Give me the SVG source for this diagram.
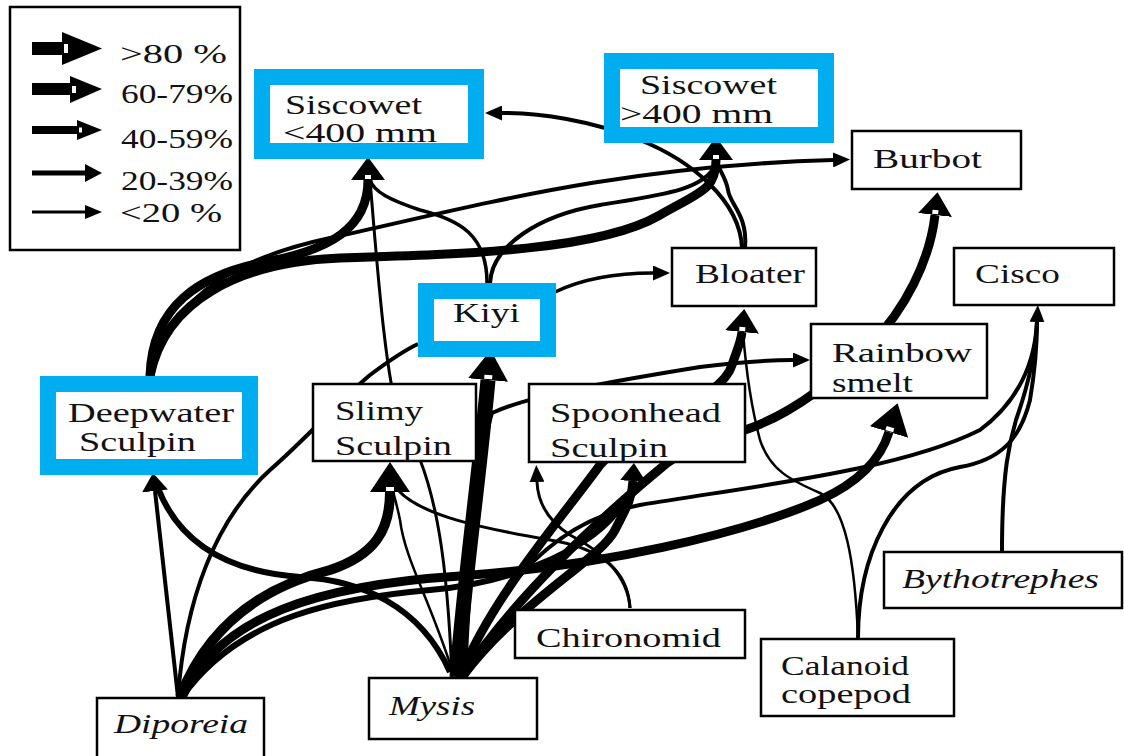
<svg xmlns="http://www.w3.org/2000/svg" width="1124" height="756" viewBox="0 0 1124 756">
<style>
.bg{fill:#fff}
.box{fill:#fff;stroke:#000;stroke-width:2.5}
.blue{fill:#fff;stroke:#00aeef;stroke-width:16}
.t{font-family:"Liberation Serif","Times New Roman",serif;font-size:28px;fill:#111}
.i{font-style:italic}
.e{fill:none;stroke:#000;stroke-linecap:butt}
</style>
<defs>
<marker id="mXL" markerUnits="userSpaceOnUse" markerWidth="30" markerHeight="40" viewBox="0 -20 30 40" refX="0" refY="0" orient="auto"><path d="M0,-20 L30,0 L0,20 Z" fill="#000"/><rect x="1" y="-4" width="4" height="8" fill="#fff"/></marker>
<marker id="mL" markerUnits="userSpaceOnUse" markerWidth="23" markerHeight="34" viewBox="0 -17 23 34" refX="0" refY="0" orient="auto"><path d="M0,-17 L23,0 L0,17 Z" fill="#000"/><rect x="1" y="-3" width="4" height="6" fill="#fff"/></marker>
<marker id="mM" markerUnits="userSpaceOnUse" markerWidth="18" markerHeight="26" viewBox="0 -13 18 26" refX="0" refY="0" orient="auto"><path d="M0,-13 L18,0 L0,13 Z" fill="#000"/></marker>
<marker id="mS" markerUnits="userSpaceOnUse" markerWidth="17" markerHeight="15" viewBox="0 -7.5 17 15" refX="0" refY="0" orient="auto"><path d="M0,-7.5 L17,0 L0,7.5 Z" fill="#000"/></marker>
</defs>
<rect class="bg" x="0" y="0" width="1124" height="756"/>

<g id="legend">
<rect class="box" x="10" y="7" width="230" height="243"/>
<rect x="32" y="42" width="31" height="13"/><polygon points="62,32 102,48.5 62,65"/><rect x="64" y="44" width="4" height="9" fill="#fff"/>
<rect x="32" y="83" width="39" height="12"/><polygon points="70,76 102,89 70,103"/><rect x="72" y="86" width="4" height="7" fill="#fff"/>
<rect x="32" y="126" width="46" height="8"/><polygon points="77,120 102,130 77,140"/><rect x="79" y="127.5" width="3" height="5" fill="#fff"/>
<rect x="32" y="170.5" width="54" height="5"/><polygon points="85,164 102,173 85,182"/>
<rect x="32" y="210.5" width="54" height="3"/><polygon points="85,205 102,212 85,219"/>
<text class="t" x="120" y="63" textLength="107" lengthAdjust="spacingAndGlyphs">&gt;80 %</text>
<text class="t" x="121" y="103" textLength="112" lengthAdjust="spacingAndGlyphs">60-79%</text>
<text class="t" x="121" y="148" textLength="112" lengthAdjust="spacingAndGlyphs">40-59%</text>
<text class="t" x="121" y="190" textLength="112" lengthAdjust="spacingAndGlyphs">20-39%</text>
<text class="t" x="120" y="222" textLength="102" lengthAdjust="spacingAndGlyphs">&lt;20 %</text>
</g>

<g id="connectors">
<!-- Deepwater bundle -->
<path class="e" stroke-width="9" d="M150,376 C152,305 200,275 265,262 C330,250 368,228 368,180" marker-end="url(#mL)"/>
<path class="e" stroke-width="9" d="M150,376 C165,300 240,262 340,258 C470,254 600,250 660,215 C700,192 716,190 716,160" marker-end="url(#mL)"/>
<path class="e" stroke-width="4" d="M152,376 C170,290 250,255 330,238 C480,205 620,166 833,160" marker-end="url(#mS)"/>
<!-- into Siscowet < 400 -->
<path class="e" stroke-width="3" d="M452,677 C448,580 440,480 400,420 C385,380 376,250 370,180"/>
<path class="e" stroke-width="3.5" d="M487,283 C487,235 460,220 420,210 C390,200 374,192 370,180"/>
<path class="e" stroke-width="4" d="M742,248 C740,200 690,160 640,140 C590,120 540,113 502,113" marker-end="url(#mS)"/>
<!-- into Siscowet > 400 -->
<path class="e" stroke-width="4" d="M490,283 C492,245 540,215 600,205 C660,195 705,190 715,165"/>
<path class="e" stroke-width="4" d="M745,248 C748,215 730,205 728,190 C726,178 720,172 717,162"/>
<!-- Kiyi -> Bloater -->
<path class="e" stroke-width="3.5" d="M555,292 C580,280 610,273 653,273" marker-end="url(#mS)"/>
<!-- Mysis bundle -->
<path class="e" stroke-width="9" d="M462,677 C520,590 610,510 667,463 C700,440 720,437 745,430 C790,415 830,385 870,345 C905,310 930,260 935,215" marker-end="url(#mL)"/>
<path class="e" stroke-width="9" d="M460,677 C490,600 560,520 600,465 C640,420 722,400 732,365 C737,350 741,342 742,332" marker-end="url(#mL)"/>
<path class="e" stroke-width="4" d="M465,677 C470,560 480,450 492,413 C530,395 620,380 700,367 C740,362 770,360 793,360" marker-end="url(#mS)"/>
<path class="e" stroke-width="9" d="M462,677 C520,600 600,560 615,530 C625,510 632,500 633,481" marker-end="url(#mM)"/>
<path class="e" stroke-width="2.5" d="M452,670 C430,600 405,560 400,520 C397,505 394,495 392,488"/>
<path class="e" stroke-width="6" d="M450,672 C420,605 360,580 300,577 C230,572 180,545 158,488"/>
<path class="e" stroke-width="4" d="M458,677 C500,580 560,520 640,505 C760,485 900,470 980,430 C1020,400 1035,360 1037,322" marker-end="url(#mS)"/>
<path class="e" stroke-width="15" d="M457,677 C462,600 480,470 488,380" marker-end="url(#mXL)"/>
<!-- Diporeia bundle -->
<path class="e" stroke-width="4" d="M178,697 L155,491" marker-end="url(#mM)"/>
<path class="e" stroke-width="4" d="M178,697 C185,600 215,520 270,470 C310,435 340,400 370,375 C390,360 405,350 418,344"/>
<path class="e" stroke-width="10" d="M180,697 C210,620 270,585 330,570 C375,555 390,530 390,492" marker-end="url(#mXL)"/>
<path class="e" stroke-width="9" d="M182,697 C220,615 320,585 460,576 C600,566 740,535 820,500 C855,484 880,462 889,432" marker-end="url(#mXL)"/>
<path class="e" stroke-width="6" d="M182,697 C240,615 340,598 430,590 C520,582 600,545 625,500"/>
<!-- Chironomid -->
<path class="e" stroke-width="3" d="M630,608 C628,570 600,548 550,540 C480,528 420,515 398,490"/>
<path class="e" stroke-width="3" d="M630,608 C628,575 600,550 570,535 C550,522 538,505 537,482" marker-end="url(#mS)"/>
<!-- Calanoid copepod -->
<path class="e" stroke-width="2.5" d="M858,638 C855,560 845,505 820,493 C790,480 770,470 760,440 C752,410 746,370 743,332"/>
<path class="e" stroke-width="4" d="M858,638 C858,560 890,480 960,467 C1000,460 1020,440 1030,400 C1035,370 1037,340 1037,322"/>
<!-- Bythotrephes -->
<path class="e" stroke-width="4" d="M1002,551 C1002,470 1010,440 1016,420 C1030,380 1036,350 1037,322"/>
</g>

<g id="siscowet-small"><rect class="blue" x="262" y="77" width="214" height="74"/>
<text class="t" x="285" y="114" textLength="137" lengthAdjust="spacingAndGlyphs">Siscowet</text>
<text class="t" x="283" y="142" textLength="154" lengthAdjust="spacingAndGlyphs">&lt;400 mm</text></g>
<g id="siscowet-large"><rect class="blue" x="612" y="61" width="214" height="74"/>
<text class="t" x="640" y="94" textLength="137" lengthAdjust="spacingAndGlyphs">Siscowet</text>
<text class="t" x="620" y="123" textLength="153" lengthAdjust="spacingAndGlyphs">&gt;400 mm</text></g>
<g id="burbot"><rect class="box" x="852" y="131" width="169" height="58"/>
<text class="t" x="873" y="168" textLength="109" lengthAdjust="spacingAndGlyphs">Burbot</text></g>
<g id="bloater"><rect class="box" x="672" y="248" width="144" height="58"/>
<text class="t" x="695" y="283" textLength="110" lengthAdjust="spacingAndGlyphs">Bloater</text></g>
<g id="kiyi"><rect class="blue" x="426" y="291" width="122" height="58"/>
<text class="t" x="453" y="322" textLength="67" lengthAdjust="spacingAndGlyphs">Kiyi</text></g>
<g id="cisco"><rect class="box" x="954" y="248" width="160" height="57"/>
<text class="t" x="975" y="283" textLength="85" lengthAdjust="spacingAndGlyphs">Cisco</text></g>
<g id="rainbow-smelt"><rect class="box" x="811" y="324" width="176" height="74"/>
<text class="t" x="832" y="362" textLength="140" lengthAdjust="spacingAndGlyphs">Rainbow</text>
<text class="t" x="832" y="392" textLength="81" lengthAdjust="spacingAndGlyphs">smelt</text></g>
<g id="deepwater-sculpin"><rect class="blue" x="48" y="384" width="202" height="83"/>
<text class="t" x="68" y="422" textLength="166" lengthAdjust="spacingAndGlyphs">Deepwater</text>
<text class="t" x="79" y="451" textLength="117" lengthAdjust="spacingAndGlyphs">Sculpin</text></g>
<g id="slimy-sculpin"><rect class="box" x="313" y="384" width="163" height="77"/>
<text class="t" x="335" y="420" textLength="88" lengthAdjust="spacingAndGlyphs">Slimy</text>
<text class="t" x="335" y="455" textLength="117" lengthAdjust="spacingAndGlyphs">Sculpin</text></g>
<g id="spoonhead-sculpin"><rect class="box" x="529" y="384" width="216" height="78"/>
<text class="t" x="550" y="422" textLength="171" lengthAdjust="spacingAndGlyphs">Spoonhead</text>
<text class="t" x="550" y="457" textLength="118" lengthAdjust="spacingAndGlyphs">Sculpin</text></g>
<g id="chironomid"><rect class="box" x="515" y="610" width="230" height="48"/>
<text class="t" x="536" y="647" textLength="185" lengthAdjust="spacingAndGlyphs">Chironomid</text></g>
<g id="calanoid-copepod"><rect class="box" x="761" y="639" width="193" height="77"/>
<text class="t" x="781" y="675" textLength="128" lengthAdjust="spacingAndGlyphs">Calanoid</text>
<text class="t" x="781" y="703" textLength="130" lengthAdjust="spacingAndGlyphs">copepod</text></g>
<g id="bythotrephes"><rect class="box" x="884" y="552" width="238" height="56"/>
<text class="t i" x="902" y="588" textLength="197" lengthAdjust="spacingAndGlyphs">Bythotrephes</text></g>
<g id="mysis"><rect class="box" x="369" y="678" width="168" height="61"/>
<text class="t i" x="389" y="715" textLength="86" lengthAdjust="spacingAndGlyphs">Mysis</text></g>
<g id="diporeia"><rect class="box" x="97" y="698" width="167" height="70"/>
<text class="t i" x="114" y="733" textLength="134" lengthAdjust="spacingAndGlyphs">Diporeia</text></g>
</svg>
